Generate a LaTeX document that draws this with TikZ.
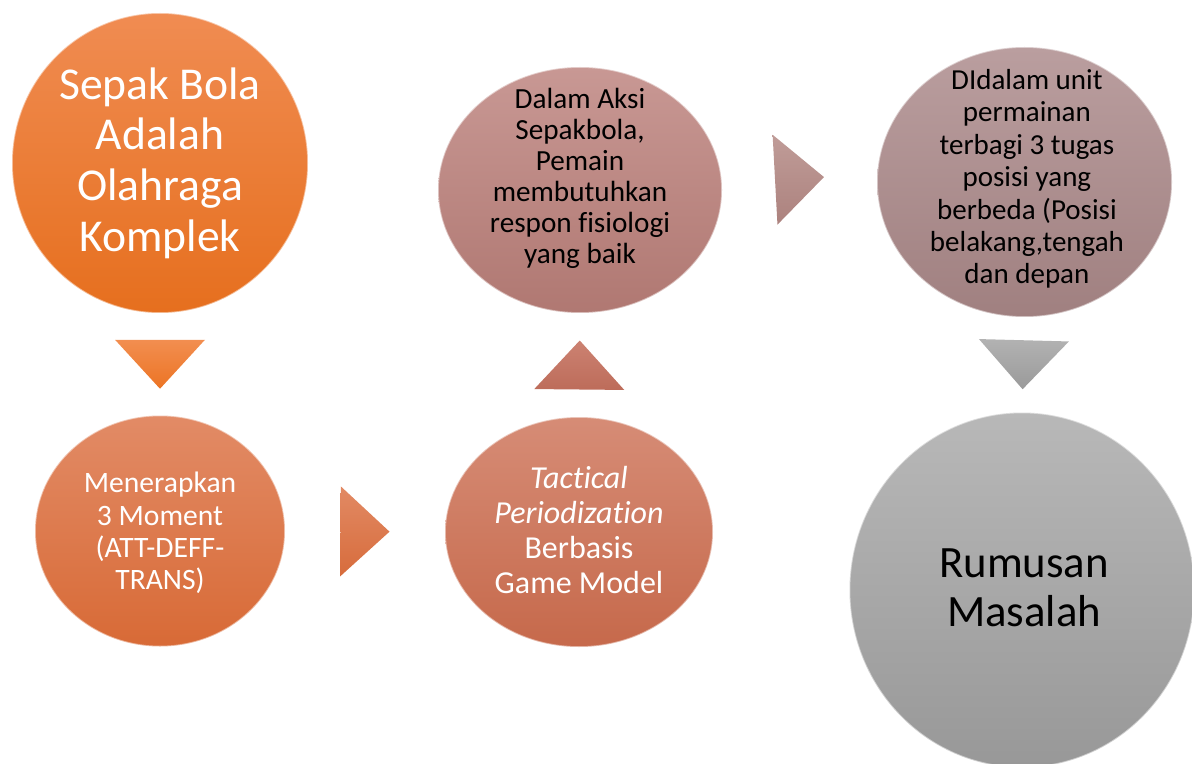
\documentclass[tikz,border=0pt]{standalone}
\usepackage{fontspec}
\setmainfont{Carlito}[Ligatures=CommonOff]
\usetikzlibrary{shapes.geometric, calc}

\definecolor{orangetop}{HTML}{F08C52}
\definecolor{orangebot}{HTML}{E66F1E}
\definecolor{coraltop}{HTML}{E28B66}
\definecolor{coralbot}{HTML}{D86A36}
\definecolor{rusttop}{HTML}{D68C76}
\definecolor{rustbot}{HTML}{C6694B}
\definecolor{rosetop}{HTML}{C89894}
\definecolor{rosebot}{HTML}{B07872}
\definecolor{mauvetop}{HTML}{BA9E9F}
\definecolor{mauvebot}{HTML}{A08080}
\definecolor{greytop}{HTML}{B8B8B8}
\definecolor{greybot}{HTML}{989898}

\tikzset{
	ball/.style={ellipse, inner sep=0pt, draw=white, draw opacity=0.5, line width=0.8pt},
	balltext/.style={align=center, inner sep=0pt},
}

\begin{document}
\begin{tikzpicture}[x=0.5pt, y=-0.5pt]
	\useasboundingbox (0,0) rectangle (1192,764);
	% circles
	\node[ball, minimum width=148pt, minimum height=150pt, top color=orangetop, bottom color=orangebot] (c1) at (160,163) {};
	\node[ball, minimum width=125pt, minimum height=115.5pt, top color=coraltop, bottom color=coralbot] (c4) at (160,531) {};
	\node[ball, minimum width=134pt, minimum height=115pt, top color=rusttop, bottom color=rustbot] (c5) at (579,532) {};
	\node[ball, minimum width=142pt, minimum height=123pt, top color=rosetop, bottom color=rosebot] (c2) at (580,190) {};
	\node[ball, minimum width=147.5pt, minimum height=135pt, top color=mauvetop, bottom color=mauvebot] (c3) at (1024.5,182) {};
	\node[ball, minimum width=172.5pt, minimum height=177.5pt, top color=greytop, bottom color=greybot] (c6) at (1022,590) {};
	% texts
	\node[balltext, text=white, font=\fontsize{22.8}{25.3}\selectfont] (t1) at (c1) {Sepak Bola\\Adalah\\Olahraga\\Komplek};
	\node[balltext, text=white, font=\fontsize{14.8}{16.2}\selectfont, yshift=-1pt] (t4) at (c4) {Menerapkan\\3 Moment\\(ATT-DEFF-\\TRANS)};
	\node[balltext, text=white, font=\fontsize{16}{17.6}\selectfont, yshift=1pt] (t5) at (c5) {\textit{Tactical}\\\textit{Periodization}\\Berbasis\\Game Model};
	\node[balltext, font=\fontsize{14.6}{15.5}\selectfont, yshift=6pt] (t2) at (c2) {Dalam Aksi\\Sepakbola,\\Pemain\\membutuhkan\\respon fisiologi\\yang baik};
	\node[balltext, font=\fontsize{14.5}{16.2}\selectfont, xshift=1.2pt, yshift=1.5pt] (t3) at (c3) {DIdalam unit\\permainan\\terbagi 3 tugas\\posisi yang\\berbeda (Posisi\\belakang,tengah\\dan depan};
	\node[balltext, font=\fontsize{22.4}{24.6}\selectfont, xshift=1pt, yshift=1pt] (t6) at (c6) {Rumusan\\Masalah};
	% triangles between the circles
	\foreach \src/\dst/\tc/\bc in {c1.south/c4.north/F28E50/EC7424, c4.east/c5.west/E28A64/D76C3C,
		c5.north/c2.south/CC8272/BD6C5A, c2.3/c3.177/C09C98/AC827E, c3.south/c6.north/B2B2B2/9A9A9A}{
		\definecolor{tritop}{HTML}{\tc}
		\definecolor{tribot}{HTML}{\bc}
		\coordinate (m) at ($(\src)!0.5!(\dst)$);
		\coordinate (tip) at ($(m)!12.25pt!(\dst)$);
		\coordinate (base) at ($(m)!12.25pt!(\src)$);
		\shade[top color=tritop, bottom color=tribot] (tip) -- ($(base)!22.5pt!90:(tip)$) -- ($(base)!22.5pt!-90:(tip)$) -- cycle;
	}
\end{tikzpicture}
\end{document}
